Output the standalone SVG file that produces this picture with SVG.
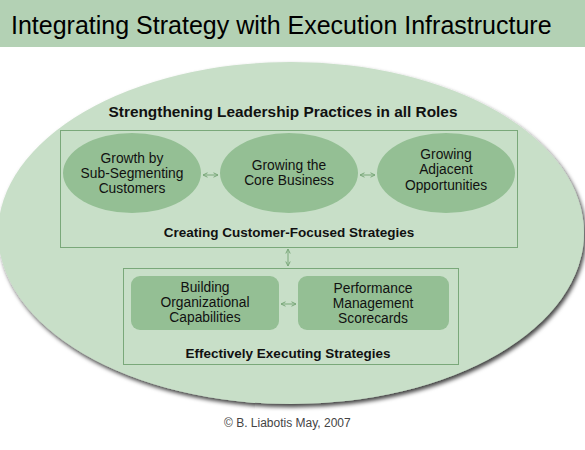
<svg xmlns="http://www.w3.org/2000/svg" width="585" height="450" viewBox="0 0 585 450">
<style>
.t{font-family:"Liberation Sans",Arial,sans-serif;fill:#111;text-anchor:middle}
.n{font-size:13.8px}
.b{font-size:13.5px;font-weight:bold}
.node{fill:#94bf94}
.frame{fill:none;stroke:#7aa87a;stroke-width:1}
.conn{stroke:#7aa87a;stroke-width:1;fill:none;marker-start:url(#ah);marker-end:url(#ah)}
</style>
<defs>
<marker id="ah" viewBox="0 0 6 6" refX="5.5" refY="3" markerWidth="6" markerHeight="6" markerUnits="userSpaceOnUse" orient="auto-start-reverse">
<path d="M1,0.8 L5.5,3 L1,5.2" fill="none" stroke="#7aa87a" stroke-width="1"/>
</marker>
<filter id="sh" x="-5%" y="-5%" width="110%" height="115%">
<feDropShadow dx="2" dy="3" stdDeviation="2" flood-color="#000" flood-opacity="0.75"/>
</filter>
</defs>
<rect width="585" height="450" fill="#fff"/>
<rect x="0" y="0" width="585" height="47" fill="#b3d1b4"/>
<text x="11" y="34" font-family="Liberation Sans,Arial,sans-serif" font-size="25" fill="#000">Integrating Strategy with Execution Infrastructure</text>
<g id="outer">
<ellipse cx="291" cy="233" rx="293" ry="171" fill="#c8dfc8" filter="url(#sh)"/>
<text class="t" x="283" y="117" font-size="15.4" font-weight="bold">Strengthening Leadership Practices in all Roles</text>
</g>
<g id="strategies">
<rect class="frame" x="60.5" y="130.5" width="457" height="117"/>
<text class="t b" x="289" y="237">Creating Customer-Focused Strategies</text>
</g>
<g id="growth-sub">
<ellipse class="node" cx="132" cy="173" rx="69" ry="40"/>
<text class="t n" x="132" y="163">Growth by</text>
<text class="t n" x="132" y="178">Sub-Segmenting</text>
<text class="t n" x="132" y="193">Customers</text>
</g>
<g id="growing-core">
<ellipse class="node" cx="289" cy="173" rx="69" ry="40"/>
<text class="t n" x="289" y="170">Growing the</text>
<text class="t n" x="289" y="185">Core Business</text>
</g>
<g id="growing-adjacent">
<ellipse class="node" cx="446" cy="173" rx="69" ry="40"/>
<text class="t n" x="446" y="159">Growing</text>
<text class="t n" x="446" y="174">Adjacent</text>
<text class="t n" x="446" y="190">Opportunities</text>
</g>
<g id="executing">
<rect class="frame" x="123.5" y="268.5" width="335" height="96"/>
<text class="t b" x="288" y="358">Effectively Executing Strategies</text>
</g>
<g id="building">
<rect class="node" x="131" y="276" width="148" height="54" rx="9"/>
<text class="t n" x="205" y="292">Building</text>
<text class="t n" x="205" y="307">Organizational</text>
<text class="t n" x="205" y="322">Capabilities</text>
</g>
<g id="performance">
<rect class="node" x="298" y="276" width="151" height="54" rx="9"/>
<text class="t n" x="373" y="293">Performance</text>
<text class="t n" x="373" y="308">Management</text>
<text class="t n" x="373" y="323">Scorecards</text>
</g>
<g id="connectors">
<line class="conn" x1="203" y1="175" x2="218" y2="175"/>
<line class="conn" x1="360" y1="175" x2="375" y2="175"/>
<line class="conn" x1="288" y1="249" x2="288" y2="266"/>
<line class="conn" x1="281" y1="304" x2="296" y2="304"/>
</g>
<text x="224" y="427" font-family="Liberation Sans,Arial,sans-serif" font-size="12" fill="#444">© B. Liabotis May, 2007</text>
</svg>
